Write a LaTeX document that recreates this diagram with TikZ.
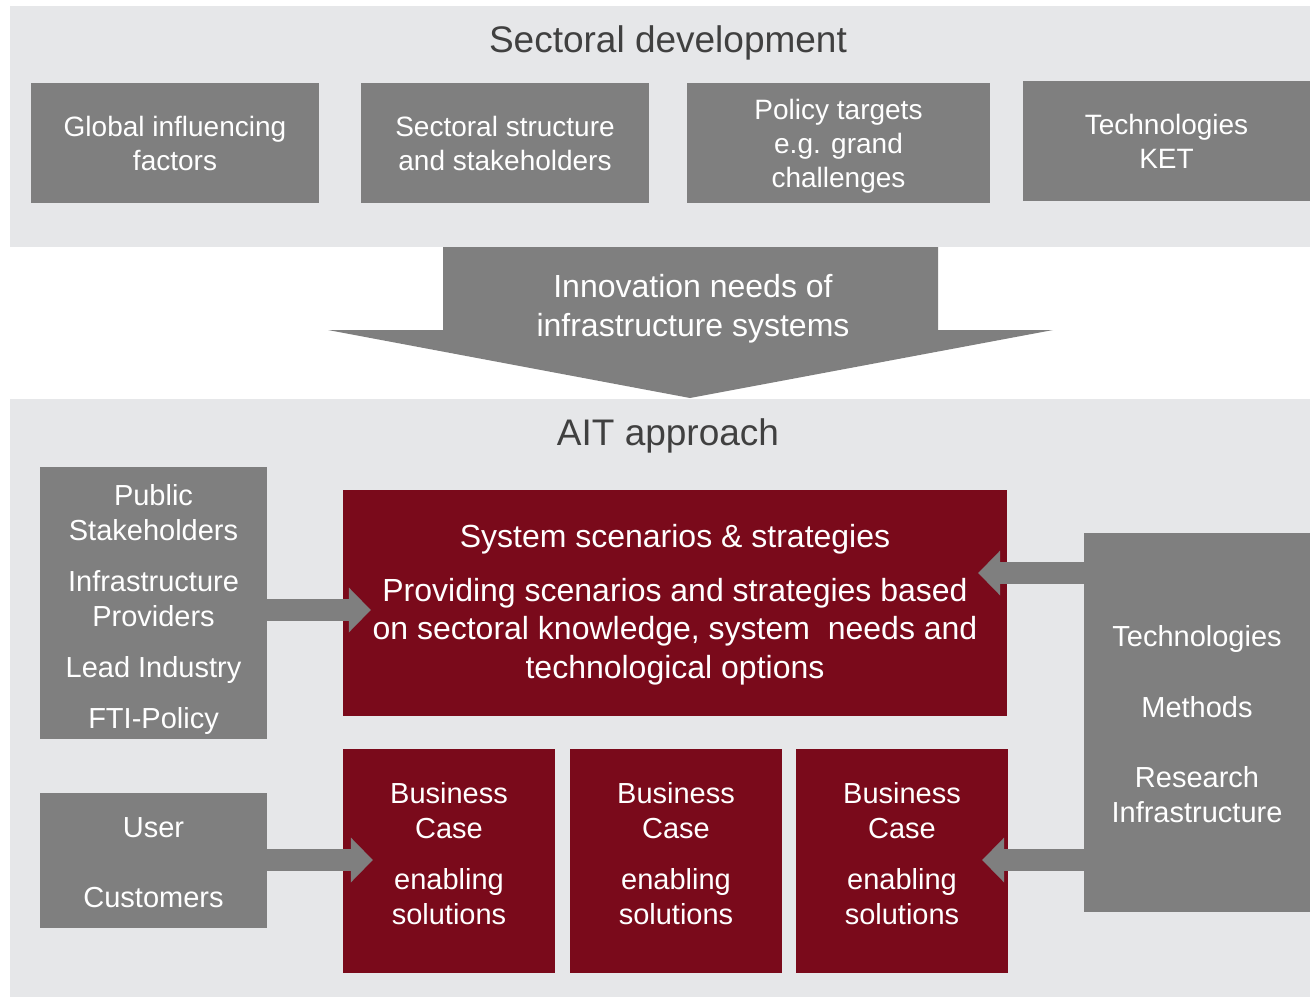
\documentclass[tikz,border=0pt]{standalone}
\usepackage{fontspec}
\setmainfont{Liberation Sans}
\usetikzlibrary{arrows.meta}
\definecolor{bggray}{HTML}{E6E7E9}
\definecolor{boxgray}{HTML}{7F7F7F}
\definecolor{aitred}{HTML}{7A0A1B}
\definecolor{titlegray}{HTML}{404040}
\tikzset{
  band/.style={fill=bggray, draw=none, inner sep=0pt, anchor=north west},
  graybox/.style={fill=boxgray, draw=none, text=white, align=center, inner sep=0pt,
    font=\fontsize{28}{34}\selectfont},
  plainbox/.style={fill=boxgray, draw=none, inner sep=0pt},
  sidetext/.style={text=white, align=center, inner sep=0pt,
    font=\fontsize{29}{35}\selectfont},
  redbox/.style={fill=aitred, draw=none, inner sep=0pt},
  wtext/.style={text=white, align=center, inner sep=0pt},
  titletext/.style={text=titlegray, inner sep=0pt, font=\fontsize{37}{44}\selectfont},
  blockarrow/.style={draw=boxgray, line width=22pt,
    -{Triangle[length=22pt, width=45pt, line width=0pt]}},
}
\begin{document}
\begin{tikzpicture}[x=1pt, y=-1pt]
\useasboundingbox (0,0) rectangle (1310,998);
% bands
\node[band, minimum width=1300pt, minimum height=241pt] (topband) at (10,6) {};
\node[band, minimum width=1300pt, minimum height=598pt] (botband) at (10,399) {};
% titles
\node[titletext] (t1) at (668,43) {Sectoral development};
\node[titletext] (t2) at (668,436) {AIT approach};
% top boxes
\node[graybox, minimum width=288pt, minimum height=120pt] (g1) at (175,143) {Global influencing\\factors};
\node[graybox, minimum width=288pt, minimum height=120pt] (g2) at (505,143) {Sectoral structure\\and stakeholders};
\node[plainbox, minimum width=303pt, minimum height=120pt] (g3) at (838.5,143) {};
\node[graybox, fill=none] (g3t) at (838.5,146) {Policy targets\\e.g. grand\\challenges};
\node[graybox, minimum width=287pt, minimum height=120pt] (g4) at (1166.5,141) {Technologies\\KET};
% big down arrow
\fill[boxgray] (443,247) -- (938,247) -- (938,330) -- (1053,330) -- (690,398)
  -- (328,330) -- (443,330) -- cycle;
\node[wtext, font=\fontsize{32}{39}\selectfont] (innov) at (693,309) {Innovation needs of\\infrastructure systems};
% left boxes
\node[plainbox, minimum width=227pt, minimum height=272pt] (lb1) at (153.5,603) {};
\node[sidetext] (lb1t) at (153.5,609.5)
  {Public\\Stakeholders\\[16pt]Infrastructure\\Providers\\[16pt]Lead Industry\\[16pt]FTI-Policy};
\node[plainbox, minimum width=227pt, minimum height=135pt] (lb2) at (153.5,860.5) {};
\node[sidetext] (lb2t) at (153.5,862.5) {User\\[35pt]Customers};
% right box
\node[plainbox, minimum width=226pt, minimum height=379pt] (rb) at (1197,722.5) {};
\node[sidetext] (rbt) at (1197,724.5)
  {Technologies\\[36pt]Methods\\[35pt]Research\\Infrastructure};
% red main box
\node[redbox, minimum width=664pt, minimum height=226pt] (red) at (675,603) {};
\node[wtext, font=\fontsize{32}{38.5}\selectfont] (redt) at (675,604.5)
  {System scenarios \& strategies\\[15pt]Providing scenarios and strategies based\\on sectoral knowledge, system\ \ needs and\\technological options};
% business cases
\node[redbox, minimum width=212pt, minimum height=224pt] (bc1) at (449,861) {};
\node[redbox, minimum width=212pt, minimum height=224pt] (bc2) at (676,861) {};
\node[redbox, minimum width=212pt, minimum height=224pt] (bc3) at (902,861) {};
\node[wtext, font=\fontsize{29}{35}\selectfont] (bc1t) at (449,854) {Business\\Case\\[16pt]enabling\\solutions};
\node[wtext, font=\fontsize{29}{35}\selectfont] (bc2t) at (676,854) {Business\\Case\\[16pt]enabling\\solutions};
\node[wtext, font=\fontsize{29}{35}\selectfont] (bc3t) at (902,854) {Business\\Case\\[16pt]enabling\\solutions};
% block arrows
\coordinate (a1) at (lb1.east |- 0,610);
\coordinate (a2) at (lb2.east |- 0,860);
\coordinate (a3) at (rb.west |- 0,573);
\coordinate (a4) at (rb.west |- 0,860);
\draw[blockarrow, shorten >=-28pt] (a1) -- (red.west |- a1);
\draw[blockarrow, shorten >=-30pt] (a2) -- (bc1.west |- a2);
\draw[blockarrow, shorten >=-29pt] (a3) -- (red.east |- a3);
\draw[blockarrow, shorten >=-26pt] (a4) -- (bc3.east |- a4);
\end{tikzpicture}
\end{document}
